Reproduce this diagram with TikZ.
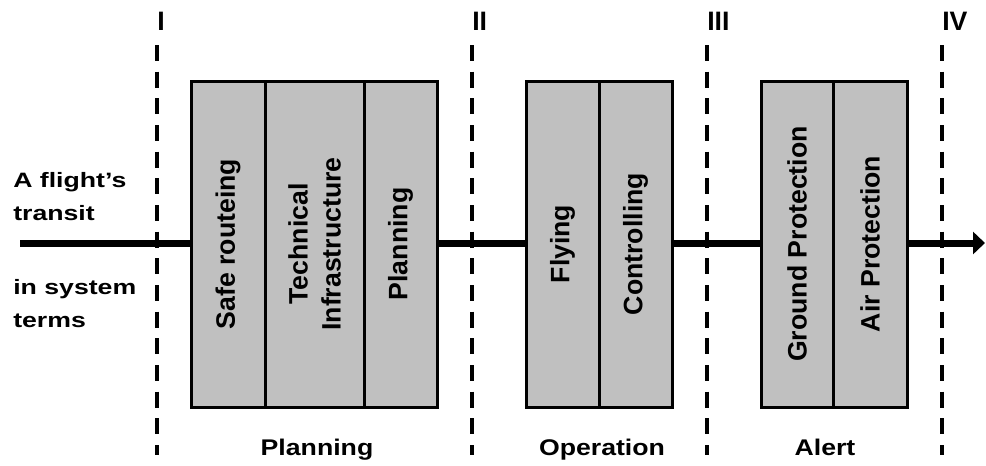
\documentclass[tikz,border=0pt]{standalone}
\usepackage{fontspec}
\setmainfont{Liberation Sans}
\usetikzlibrary{positioning,arrows.meta}
\definecolor{cellgray}{RGB}{192,192,192}
\tikzset{
	% grey cells of a stage, the caption is turned upright
	cell/.style={draw,fill=cellgray,line width=2.25pt,outer sep=0pt,inner sep=0pt,minimum height=244.5pt},
	caption/.style={rotate=90,align=center,font=\bfseries\fontsize{20}{24.75}\selectfont},
	% dashed stage borders and the flight path
	border/.style={line width=2.6pt,dash pattern=on 12pt off 8pt},
	flow/.style={line width=5.25pt,-{Triangle[length=9pt,width=16.5pt]}},
	stage/.style={anchor=base west,inner sep=0pt,font=\bfseries\fontsize{20}{24}\selectfont},
	sidetext/.style={anchor=base west,inner sep=0pt,align=left,yscale=0.78,transform shape,font=\bfseries\fontsize{20}{30.8}\selectfont},
	phase/.style={anchor=base,inner sep=0pt,yscale=0.85,transform shape,font=\bfseries\fontsize{20}{24}\selectfont}
}
\begin{document}
\begin{tikzpicture}[x=0.75pt,y=-0.75pt]
	\useasboundingbox (0,0) rectangle (986,465);
	% stage borders with their numbers
	\foreach \x/\num in {157/I,472/II,707/III,942/IV}{
		\coordinate (top\num) at (\x,45);
		\coordinate (bot\num) at (\x,455);
		\draw[border] (top\num) -- (bot\num);
		\node[stage] (st\num) at (\x,30) {\num};
	}
	% the flight path runs under the cells
	\coordinate (start) at (20,243);
	\coordinate (end) at (985,243);
	\draw[flow] (start) -- (end);

	% planning
	\node[cell,minimum width=55.5pt,anchor=west,label={[caption]center:Safe routeing}] (routeing) at (191,244) {};
	\node[cell,minimum width=74.25pt,right=0pt of routeing,label={[caption]center:{Technical\\Infrastructure}}] (infra) {};
	\node[cell,minimum width=54.75pt,right=0pt of infra,label={[caption]center:Planning}] (plan) {};
	% operation
	\node[cell,minimum width=54.75pt,anchor=west,label={[caption]center:Flying}] (flying) at (526,244) {};
	\node[cell,minimum width=54.75pt,right=0pt of flying,label={[caption]center:Controlling}] (control) {};
	% alert
	\node[cell,minimum width=54pt,anchor=west,label={[caption]center:Ground Protection}] (ground) at (761,244) {};
	\node[cell,minimum width=55.5pt,right=0pt of ground,label={[caption]center:Air Protection}] (air) {};

	% base of a two line node is its last line
	\node[sidetext] (transit) at (13,220) {A flight’s\\transit};
	\node[sidetext] (terms) at (13,327) {in system\\terms};
	\node[phase] (phplan) at (317,455) {Planning};
	\node[phase] (phop) at (602,455) {Operation};
	\node[phase] (phalert) at (825,455) {Alert};
\end{tikzpicture}
\end{document}
